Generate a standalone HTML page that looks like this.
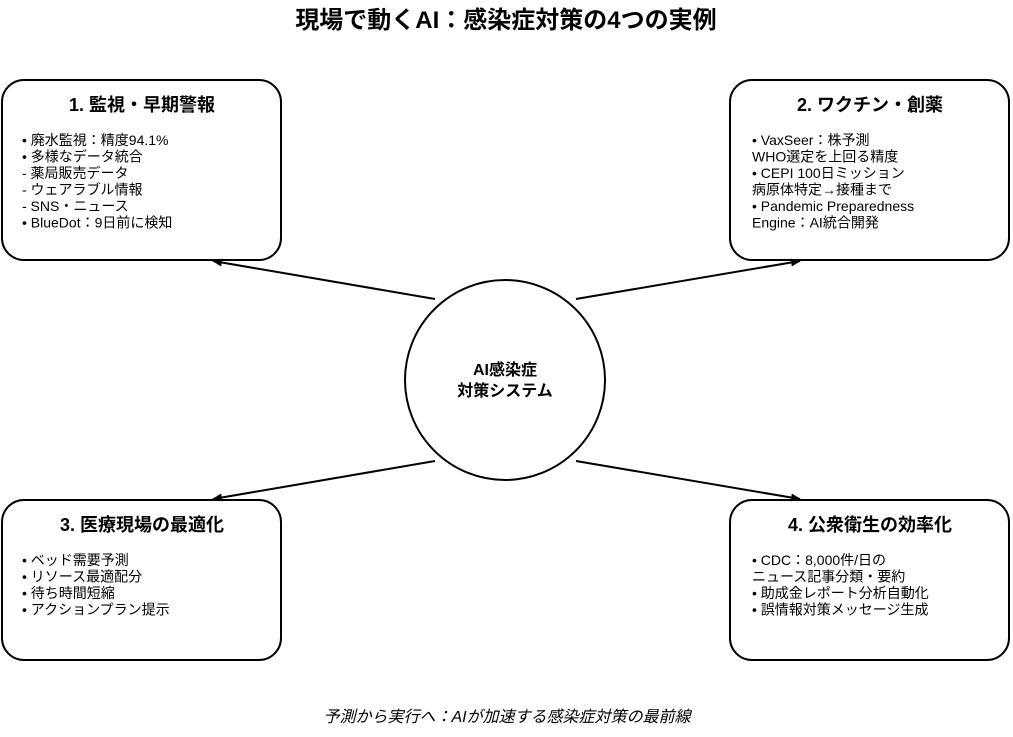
<!DOCTYPE html>
<html><head><meta charset="utf-8"><style>
body{margin:0;width:1013px;height:732px;background:#fff;overflow:hidden}
svg text{font-family:"Liberation Sans","Noto Sans CJK JP",sans-serif;fill:#000}
</style></head><body>
<svg width="1013" height="732" viewBox="0 0 1013 732">
<defs><marker id="a" markerWidth="10" markerHeight="8" refX="9" refY="4" orient="auto" markerUnits="userSpaceOnUse"><path d="M0,0L10,4L0,8z" fill="#000"/></marker></defs>
<text x="506" y="28" font-size="24" font-weight="bold" text-anchor="middle">現場で動くAI：感染症対策の4つの実例</text>
<g fill="#fff" stroke="#000" stroke-width="2">
<rect x="2" y="80" width="279" height="180" rx="22"/>
<rect x="730" y="80" width="279" height="180" rx="22"/>
<rect x="2" y="500" width="279" height="160" rx="22"/>
<rect x="730" y="500" width="279" height="160" rx="22"/>
<circle cx="505" cy="380" r="100"/>
</g>
<g stroke="#000" stroke-width="2" marker-end="url(#a)">
<line x1="435" y1="299" x2="213" y2="261"/>
<line x1="576" y1="299" x2="800" y2="261"/>
<line x1="435" y1="461" x2="213" y2="499"/>
<line x1="576" y1="461" x2="800" y2="499"/>
</g>
<g font-size="18" font-weight="bold" text-anchor="middle">
<text x="142" y="111">1. 監視・早期警報</text>
<text x="870" y="111">2. ワクチン・創薬</text>
<text x="142" y="531">3. 医療現場の最適化</text>
<text x="870" y="531">4. 公衆衛生の効率化</text>
<text x="505" y="375" font-size="16">AI感染症</text>
<text x="505" y="396" font-size="16">対策システム</text>
</g>
<g font-size="14">
<text x="22" y="145">• 廃水監視：精度94.1%</text>
<text x="22" y="161.5">• 多様なデータ統合</text>
<text x="22" y="178">- 薬局販売データ</text>
<text x="22" y="194.5">- ウェアラブル情報</text>
<text x="22" y="211">- SNS・ニュース</text>
<text x="22" y="227.5">• BlueDot：9日前に検知</text>
<text x="752" y="145">• VaxSeer：株予測</text>
<text x="752" y="161.5">WHO選定を上回る精度</text>
<text x="752" y="178">• CEPI 100日ミッション</text>
<text x="752" y="194.5">病原体特定→接種まで</text>
<text x="752" y="211">• Pandemic Preparedness</text>
<text x="752" y="227.5">Engine：AI統合開発</text>
<text x="22" y="565">• ベッド需要予測</text>
<text x="22" y="581.5">• リソース最適配分</text>
<text x="22" y="598">• 待ち時間短縮</text>
<text x="22" y="614.5">• アクションプラン提示</text>
<text x="752" y="565">• CDC：8,000件/日の</text>
<text x="752" y="581.5">ニュース記事分類・要約</text>
<text x="752" y="598">• 助成金レポート分析自動化</text>
<text x="752" y="614.5">• 誤情報対策メッセージ生成</text>
<text x="507" y="722" font-size="16" font-style="italic" text-anchor="middle">予測から実行へ：AIが加速する感染症対策の最前線</text>
</g>
</svg>
</body></html>
